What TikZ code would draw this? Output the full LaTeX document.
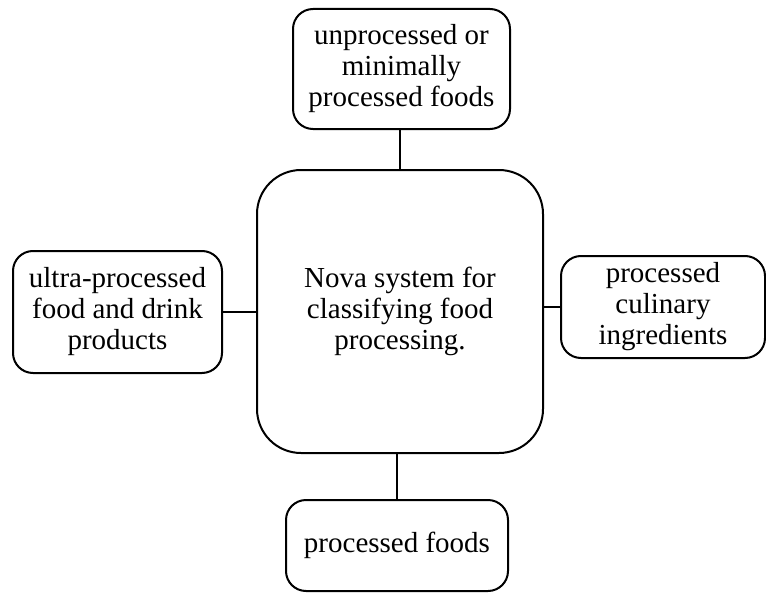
\documentclass[tikz,border=0pt]{standalone}
\usepackage{fontspec}
\setmainfont{Liberation Serif}
\begin{document}
\begin{tikzpicture}[x=1pt,y=-1pt,
  box/.style={draw=black, line width=2pt, rounded corners=20pt, fill=white,
    align=center, inner sep=0pt, font=\fontsize{29}{31}\selectfont},
  hub/.style={box, rounded corners=44pt},
  link/.style={draw=black, line width=2pt}]
\useasboundingbox[fill=white] (0,0) rectangle (766,594);

\node[hub, minimum width=286pt, minimum height=283pt] (nova) at (400,311.5)
  {Nova system for\\classifying food\\processing.};

\node[box, minimum width=217pt, minimum height=120pt] (unproc) at (401.5,69)
  {unprocessed or\\minimally\\processed foods};
\node[box, minimum width=209pt, minimum height=122pt] (ultra) at (117.5,312)
  {ultra-processed\\food and drink\\products};
\node[box, minimum width=204pt, minimum height=102pt] (culin) at (663,307)
  {processed\\culinary\\ingredients};
\node[box, minimum width=222pt, minimum height=91pt] (proc) at (397,545.5)
  {processed foods};

\draw[link] (nova.north) -- (nova.north |- unproc.south);
\draw[link] (ultra.east) -- (ultra.east -| nova.west);
\draw[link] (culin.west) -- (culin.west -| nova.east);
\draw[link] (proc.north) -- (proc.north |- nova.south);
\end{tikzpicture}
\end{document}
